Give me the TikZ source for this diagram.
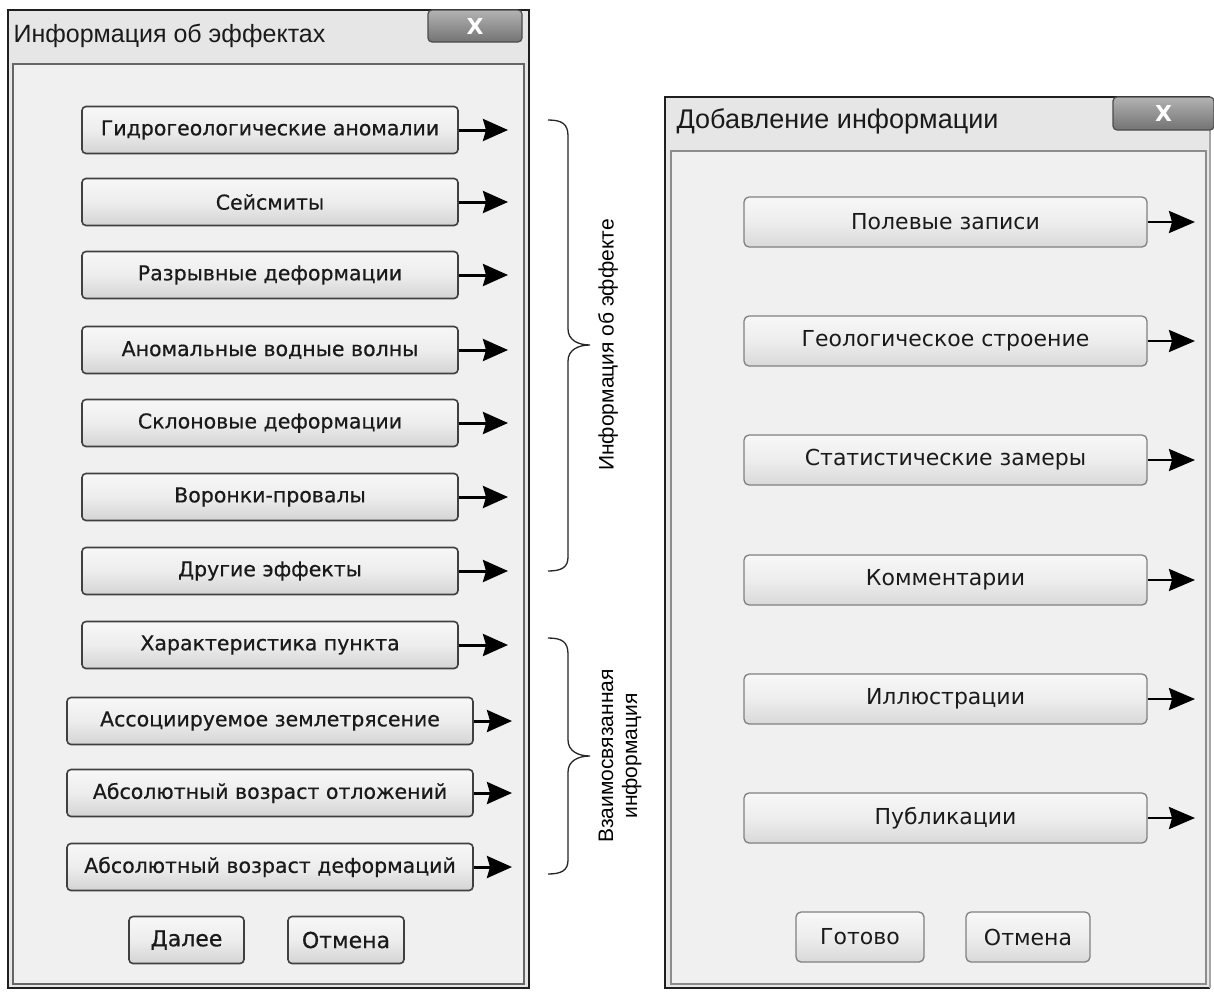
\documentclass[tikz,border=0pt]{standalone}
\usepackage{fontspec}
\setmainfont{DejaVu Sans}
\newfontfamily\libsans{Liberation Sans}
\newfontfamily\btnfont{DejaVu Sans}[FakeBold=0.5]
\usetikzlibrary{arrows.meta}
\definecolor{panel}{HTML}{F0F0F0}
\definecolor{winbg}{HTML}{E6E6E6}
\definecolor{txt}{HTML}{1A1A1A}
\tikzset{
  lbtn/.style={draw=black!75, line width=1.6pt, rounded corners=4pt,
    top color=white!97!black, bottom color=black!17, middle color=black!7,
    minimum height=47pt, inner sep=0pt, text=txt,
    font=\btnfont\fontsize{20.5}{24}\selectfont},
  rbtn/.style={draw=black!50, line width=1.3pt, rounded corners=5pt,
    top color=white!97!black, bottom color=black!15, middle color=black!7,
    minimum height=50pt, inner sep=0pt, text=txt,
    font=\fontsize{22}{25}\selectfont},
  closebtn/.style={draw=black!70, line width=1.2pt, rounded corners=4pt,
    top color=black!30, bottom color=black!55, inner sep=0pt, text=white,
    font=\bfseries\fontsize{22}{22}\selectfont},
  larr/.style={line width=3pt, -{Stealth[length=25pt,width=22pt,inset=3pt]}},
  rarr/.style={line width=2.6pt, -{Stealth[length=26pt,width=22pt,inset=3pt]}},
  bracepath/.style={line width=1.3pt, black!85},
  bracelbl/.style={rotate=90, align=center, font=\libsans\fontsize{21}{24}\selectfont}
}
\begin{document}
\begin{tikzpicture}[x=1pt,y=-1pt]
\useasboundingbox (0,0) rectangle (1214,991);
\fill[white] (0,0) rectangle (1214,991);

% ---------- left window ----------
\fill[winbg] (8,10) rectangle (529,988);
\filldraw[fill=panel, draw=black!60, line width=1.6pt] (13,64) rectangle (524,984);
\draw[line width=2.6pt, black!88] (8,10) rectangle (529,988);
\node[closebtn, minimum width=94pt, minimum height=32pt] (xL) at (475,26) {X};
\node[anchor=base west, text=txt, font=\libsans\fontsize{25}{29}\selectfont] (tL) at (10,42) {Информация об эффектах};

\node[lbtn, minimum width=376pt] (bL1) at (270,130) {Гидрогеологические аномалии};
\node[lbtn, minimum width=376pt] (bL2) at (270,202) {Сейсмиты};
\node[lbtn, minimum width=376pt] (bL3) at (270,275) {Разрывные деформации};
\node[lbtn, minimum width=376pt] (bL4) at (270,350) {Аномальные водные волны};
\node[lbtn, minimum width=376pt] (bL5) at (270,423) {Склоновые деформации};
\node[lbtn, minimum width=376pt] (bL6) at (270,497) {Воронки-провалы};
\node[lbtn, minimum width=376pt] (bL7) at (270,571) {Другие эффекты};
\node[lbtn, minimum width=376pt] (bL8) at (270,645) {Характеристика пункта};
\node[lbtn, minimum width=406pt] (bL9) at (270,721) {Ассоциируемое землетрясение};
\node[lbtn, minimum width=406pt] (bL10) at (270,793) {Абсолютный возраст отложений};
\node[lbtn, minimum width=406pt] (bL11) at (270,867) {Абсолютный возраст деформаций};
\node[lbtn, minimum width=115pt, font=\btnfont\fontsize{22}{24}\selectfont] (bD) at (186.5,940) {Далее};
\node[lbtn, minimum width=116pt, font=\btnfont\fontsize{22}{24}\selectfont] (bC) at (346,940) {Отмена};

\coordinate (eL1) at (508,130);
\coordinate (eL2) at (508,202);
\coordinate (eL3) at (508,275);
\coordinate (eL4) at (508,350);
\coordinate (eL5) at (508,423);
\coordinate (eL6) at (508,497);
\coordinate (eL7) at (508,571);
\coordinate (eL8) at (508,645);
\coordinate (eL9) at (512,721);
\coordinate (eL10) at (512,793);
\coordinate (eL11) at (512,867);
\foreach \i in {1,...,11}{\draw[larr] (bL\i) -- (eL\i);}

% ---------- braces ----------
\draw[bracepath] (548,120) .. controls (562,120) and (568,124) .. (568,136)
  -- (568,329) .. controls (568,340) and (578,345) .. (590,345)
  .. controls (578,345) and (568,350) .. (568,361)
  -- (568,557) .. controls (568,567) and (562,571) .. (548,571);
\node[bracelbl] (lab1) at (608,345) {Информация об эффекте};

\draw[bracepath] (548,638) .. controls (562,638) and (568,642) .. (568,654)
  -- (568,740) .. controls (568,751) and (578,756) .. (590,756)
  .. controls (578,756) and (568,761) .. (568,772)
  -- (568,860) .. controls (568,870) and (562,874) .. (548,874);
\node[bracelbl] (lab2) at (620,756) {Взаимосвязанная\\информация};

% ---------- right window ----------
\fill[winbg] (665,97) rectangle (1210,988);
\filldraw[fill=panel, draw=black!45, line width=1.4pt] (671,151) rectangle (1206,984);
\draw[line width=2.6pt, black!88] (1210,97) -- (665,97) -- (665,988) -- (1210,988);
\draw[line width=1.2pt, black!35] (1210,97) -- (1210,988);
\node[closebtn, minimum width=101pt, minimum height=33pt] (xR) at (1163.5,113.5) {X};
\node[anchor=base west, text=txt, font=\libsans\fontsize{27}{31}\selectfont] (tR) at (673,128) {Добавление информации};

\node[rbtn, minimum width=403pt] (bR1) at (945.5,222) {Полевые записи};
\node[rbtn, minimum width=403pt] (bR2) at (945.5,341) {Геологическое строение};
\node[rbtn, minimum width=403pt] (bR3) at (945.5,460) {Статистические замеры};
\node[rbtn, minimum width=403pt] (bR4) at (945.5,580) {Комментарии};
\node[rbtn, minimum width=403pt] (bR5) at (945.5,699) {Иллюстрации};
\node[rbtn, minimum width=403pt] (bR6) at (945.5,818) {Публикации};
\node[rbtn, minimum width=128pt] (bG) at (860,937) {Готово};
\node[rbtn, minimum width=124pt] (bO) at (1028,937) {Отмена};

\coordinate (eR1) at (1195,222);
\coordinate (eR2) at (1195,341);
\coordinate (eR3) at (1195,460);
\coordinate (eR4) at (1195,580);
\coordinate (eR5) at (1195,699);
\coordinate (eR6) at (1195,818);
\foreach \i in {1,...,6}{\draw[rarr] (bR\i) -- (eR\i);}
\end{tikzpicture}
\end{document}
